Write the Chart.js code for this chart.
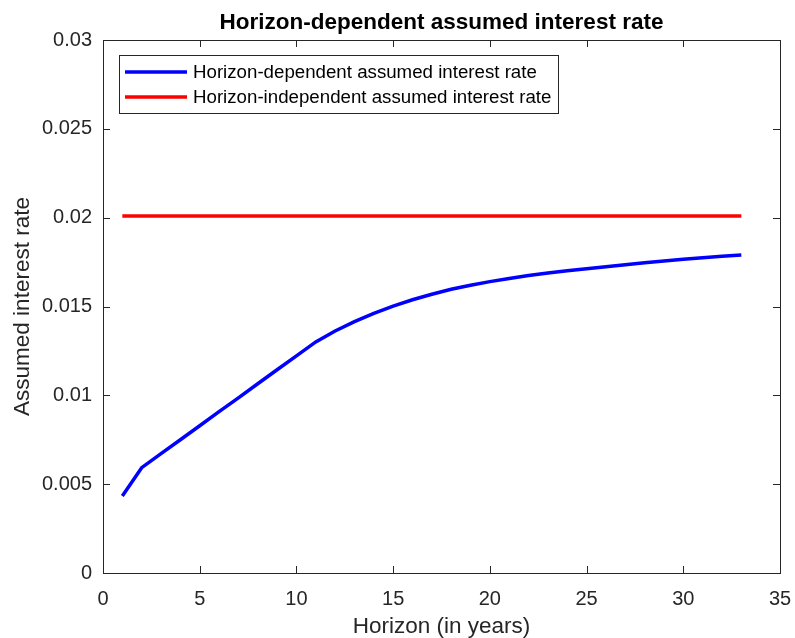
<!DOCTYPE html>
<html>
<head>
<meta charset="utf-8">
<script src="https://cdn.jsdelivr.net/npm/chart.js@4"></script>
<style>
  html, body { margin: 0; padding: 0; background: #fff; }
  #wrap { width: 795px; height: 638px; }
</style>
</head>
<body>
<div id="wrap"><canvas id="rateChart" width="795" height="638"></canvas></div>
<script>
const horizons = [1, 2, 3, 4, 5, 6, 7, 8, 9, 10, 11, 12, 13, 14, 15, 16, 17,
    18, 19, 20, 21, 22, 23, 24, 25, 26, 27, 28, 29, 30, 31, 32, 33];

const dependentRate = [
    0.00434, 0.00593, 0.00672, 0.00750, 0.00829, 0.00908, 0.00986, 0.01065,
    0.01144, 0.01222, 0.01301, 0.01362, 0.01415, 0.01461, 0.01502, 0.01538,
    0.01569, 0.01597, 0.01620, 0.01640, 0.01658, 0.01674, 0.01688, 0.01701,
    0.01712, 0.01724, 0.01735, 0.01746, 0.01756, 0.01766, 0.01775, 0.01783,
    0.01790
];

const independentRate = [
    0.0201, 0.0201, 0.0201, 0.0201, 0.0201, 0.0201, 0.0201, 0.0201, 0.0201,
    0.0201, 0.0201, 0.0201, 0.0201, 0.0201, 0.0201, 0.0201, 0.0201, 0.0201,
    0.0201, 0.0201, 0.0201, 0.0201, 0.0201, 0.0201, 0.0201, 0.0201, 0.0201,
    0.0201, 0.0201, 0.0201, 0.0201, 0.0201, 0.0201
];

const seriesNames = [
    'Horizon-dependent assumed interest rate',
    'Horizon-independent assumed interest rate'
];

const xTicks = [0, 5, 10, 15, 20, 25, 30, 35];
const yTicks = [0, 0.005, 0.01, 0.015, 0.02, 0.025, 0.03];

const axisColor = '#262626';
const fontFamily = '"Liberation Sans", Arial, Helvetica, sans-serif';

function toPoints(xs, ys) {
    return xs.map((x, i) => ({ x: x, y: ys[i] }));
}

// matlab style box with ticks pointing inward, and a legend inside the axes
const boxPlugin = {
    id: 'matlabBox',
    afterDatasetsDraw(chart) {
        const c = chart.ctx;
        const a = chart.chartArea;
        const xs = chart.scales.x;
        const ys = chart.scales.y;
        const len = 7;
        c.save();
        c.strokeStyle = axisColor;
        c.lineWidth = 1;
        c.beginPath();
        xTicks.forEach(v => {
            const px = Math.round(xs.getPixelForValue(v)) + 0.5;
            c.moveTo(px, a.bottom); c.lineTo(px, a.bottom - len);
            c.moveTo(px, a.top); c.lineTo(px, a.top + len);
        });
        yTicks.forEach(v => {
            const py = Math.round(ys.getPixelForValue(v)) + 0.5;
            c.moveTo(a.left, py); c.lineTo(a.left + len, py);
            c.moveTo(a.right, py); c.lineTo(a.right - len, py);
        });
        c.stroke();
        c.strokeRect(Math.round(a.left) + 0.5, Math.round(a.top) + 0.5,
            Math.round(a.right - a.left), Math.round(a.bottom - a.top));

        // legend
        const lx = a.left + 16, ly = a.top + 15;
        const lw = 439, lh = 58;
        c.fillStyle = '#fff';
        c.fillRect(lx, ly, lw, lh);
        c.strokeRect(Math.round(lx) + 0.5, Math.round(ly) + 0.5, lw, lh);
        c.font = '18.7px ' + fontFamily;
        c.textBaseline = 'middle';
        chart.data.datasets.forEach((ds, i) => {
            const yy = ly + 17 + i * 25;
            c.strokeStyle = ds.borderColor;
            c.lineWidth = ds.borderWidth;
            c.beginPath();
            c.moveTo(lx + 6, yy); c.lineTo(lx + 68, yy);
            c.stroke();
            c.fillStyle = '#000';
            c.fillText(ds.label, lx + 74, yy + 1);
        });
        c.restore();
    }
};

const ctx = document.getElementById('rateChart');

const data = {
    datasets: [{
        label: seriesNames[0],
        data: toPoints(horizons, dependentRate),
        borderColor: '#0000ff',
        borderWidth: 3.5,
        pointRadius: 0,
        tension: 0,
    }, {
        label: seriesNames[1],
        data: toPoints(horizons, independentRate),
        borderColor: '#ff0000',
        borderWidth: 3.5,
        pointRadius: 0,
        tension: 0,
    }]
};

const options = {
    responsive: false,
    animation: false,
    layout: { padding: 0 },
    plugins: {
        legend: { display: false },
        tooltip: { enabled: false },
        title: {
            display: true,
            fullSize: false,
            text: 'Horizon-dependent assumed interest rate',
            color: '#000',
            font: { family: fontFamily, size: 22.5, weight: 'bold' },
            padding: { top: 9, bottom: 4 }
        }
    },
    scales: {
        x: {
            type: 'linear',
            min: 0,
            max: 35,
            afterBuildTicks: s => { s.ticks = xTicks.map(v => ({ value: v })); },
            afterFit: s => {
                s.height = 65;
                s.paddingLeft = 0;
                s.paddingRight = 15;
            },
            grid: { display: false },
            border: { display: false },
            ticks: {
                color: axisColor,
                padding: 6,
                maxRotation: 0,
                font: { family: fontFamily, size: 20 }
            },
            title: {
                display: true,
                text: 'Horizon (in years)',
                color: axisColor,
                font: { family: fontFamily, size: 22.5 },
                padding: { top: 0, bottom: -2 }
            }
        },
        y: {
            type: 'linear',
            min: 0,
            max: 0.03,
            afterBuildTicks: s => { s.ticks = yTicks.map(v => ({ value: v })); },
            afterFit: s => { s.width = 103; },
            grid: { display: false },
            border: { display: false },
            ticks: {
                color: axisColor,
                padding: 3,
                font: { family: fontFamily, size: 20 },
                callback: v => String(parseFloat(v.toFixed(3)))
            },
            title: {
                display: true,
                text: 'Assumed interest rate',
                color: axisColor,
                font: { family: fontFamily, size: 22.5 },
                padding: { top: 9.5, bottom: 0 }
            }
        }
    }
};

const config = {
    type: 'line',
    data: data,
    options: options,
    plugins: [boxPlugin]
};

const rateChart = new Chart(ctx, config);
</script>
</body>
</html>
